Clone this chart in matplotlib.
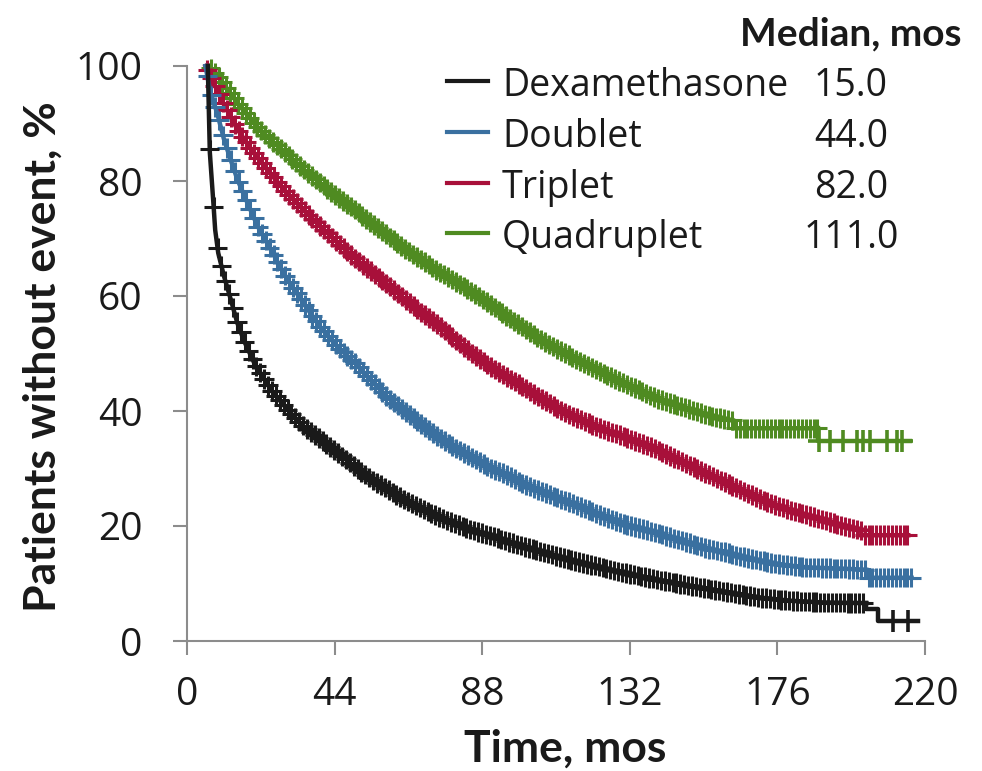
import numpy as np
import matplotlib
matplotlib.use("Agg")
import matplotlib.pyplot as plt
from matplotlib.patheffects import AbstractPathEffect, Normal
from matplotlib.path import Path
from matplotlib.transforms import IdentityTransform
from matplotlib.lines import Line2D

plt.rcParams['font.family'] = ['Open Sans', 'DejaVu Sans']
BOLD_FONT = ['Lato', 'DejaVu Sans']

# ---------------- data ----------------
x_ticks = [0, 44, 88, 132, 176, 220]
y_ticks = [0, 20, 40, 60, 80, 100]

groups = ["Dexamethasone", "Doublet", "Triplet", "Quadruplet"]
medians = ["15.0", "44.0", "82.0", "111.0"]

black_t = [6.2, 6.8, 7.8, 8.4, 9.3, 11, 13, 15, 17, 20, 25, 30, 35, 40, 45, 50,
           55, 60, 65, 70, 75, 80, 85, 90, 100, 110, 120, 130, 140, 150, 160,
           170, 180, 190, 202.5]
black_s = [100, 85, 76.7, 71.5, 67.5, 63.5, 59.5, 55.3, 52.2, 48.4, 43.7, 40.2,
           37.2, 35, 32.7, 30.3, 28.1, 26.3, 24.5, 23, 21.6, 20.4, 19.3, 18.4,
           16.5, 14.8, 13.3, 11.9, 10.7, 9.6, 8.6, 7.6, 7.0, 6.7, 6.6]
black_tail_t = [202.5, 202.5, 206, 206, 218]
black_tail_s = [6.6, 5.5, 5.5, 3.5, 3.5]
black_cens_t = [210.5, 215]

blue_t = [5.5, 7, 9, 11, 13, 15, 18, 21, 25, 30, 35, 40, 45, 50, 55, 60, 65, 70,
          75, 80, 85, 90, 95, 100, 105, 110, 115, 120, 125, 130, 135, 140, 145,
          150, 155, 160, 165, 170, 175, 180, 185, 190, 195, 202.5, 202.5, 216]
blue_s = [100, 95.3, 91.8, 87.3, 83.7, 80.3, 76.2, 72.2, 68, 62.8, 58.5, 54.4,
          51.1, 48.4, 45.2, 42.3, 39.9, 37.7, 35.4, 33.6, 31.9, 30.2, 29, 27.4,
          26.2, 25, 23.9, 22.7, 21.5, 20.4, 19.6, 18.8, 17.9, 17, 16.1, 15.5,
          14.7, 14.1, 13.5, 13.1, 12.8, 12.7, 12.6, 12.4, 11.0, 11.0]

red_t = [5.5, 8, 11, 15, 20, 25, 30, 35, 40, 45, 50, 55, 60, 65, 70, 75, 80, 85,
         90, 95, 100, 105, 110, 115, 120, 125, 130, 135, 140, 145, 150, 155, 160,
         165, 170, 175, 180, 185, 190, 195, 201, 201, 215]
red_s = [100, 97, 93.3, 89, 84.8, 81.2, 77.8, 74.8, 72, 69.2, 66.6, 64.2, 61.9,
         59.4, 57.1, 54.9, 52.4, 50.0, 47.9, 46.0, 44.3, 42.4, 40.6, 39.1, 37.8,
         36.6, 35.6, 34.5, 33.3, 31.9, 30.5, 29.1, 27.7, 26.3, 24.9, 23.7, 22.7,
         21.9, 21, 20.1, 19.2, 18.4, 18.4]

green_t = [6.5, 10, 15, 20, 25, 30, 35, 40, 45, 50, 55, 60, 65, 70, 75, 80, 85,
           90, 95, 100, 105, 110, 115, 120, 125, 130, 135, 140, 145, 150, 155,
           160, 163, 163, 188]
green_s = [100, 97.6, 93.6, 90, 87.1, 84.6, 81.9, 79.5, 77.2, 75, 72.7, 70.4,
           68.2, 66.2, 64.3, 62.5, 60.7, 58.7, 56.6, 54.6, 52.6, 50.9, 49.3, 47.8,
           46.3, 44.9, 43.6, 42.2, 41.2, 40.3, 39.3, 38.6, 38.3, 37.0, 37.0]
green_tail_t = [188, 188, 215.5]
green_tail_s = [37.0, 34.8, 34.8]
green_cens_t = [188.5, 191.7, 195.6, 199.7, 201.5, 203.6, 208.7, 211.6, 213]

colors = ['#1a1a1a', '#3a70a0', '#a8103a', '#4f8b21']
text_col = '#1a1a1a'
axis_col = '#8c8c8c'


# ---------------- censor-tick line style ----------------
class CensorMarks(AbstractPathEffect):
    """'+' censor ticks drawn along a line at a fixed horizontal spacing."""
    def __init__(self, spacing=2.8, half=7.0, lw=2.2):
        super().__init__()
        self.spacing, self.half, self.lw = spacing, half, lw

    def draw_path(self, renderer, gc, tpath, affine, rgbFace=None):
        pts = affine.transform(tpath.vertices)
        x, y = pts[:, 0], pts[:, 1]
        s = np.concatenate([[0.0], np.cumsum(np.abs(np.diff(x)))])
        step = renderer.points_to_pixels(self.spacing)
        h = renderer.points_to_pixels(self.half)
        ss = np.arange(step / 2, s[-1], step)
        if len(ss) == 0:
            return
        xt = np.interp(ss, s, x)
        yt = np.interp(ss, s, y)
        n = len(xt)
        verts = np.empty((4 * n, 2))
        verts[0::4] = np.c_[xt, yt - h]
        verts[1::4] = np.c_[xt, yt + h]
        verts[2::4] = np.c_[xt - h, yt]
        verts[3::4] = np.c_[xt + h, yt]
        codes = np.tile([Path.MOVETO, Path.LINETO, Path.MOVETO, Path.LINETO], n)
        gc0 = renderer.new_gc()
        gc0.copy_properties(gc)
        gc0.set_linewidth(self.lw)
        gc0.set_capstyle('butt')
        renderer.draw_path(gc0, Path(verts, codes), IdentityTransform())
        gc0.restore()


fig = plt.figure(figsize=(9.82, 7.71), dpi=100)
ax = fig.add_axes([187 / 982, 1 - 641 / 771, 738 / 982, 575 / 771])

LW = 3.2
series = [
    (green_t, green_s, colors[3]),
    (red_t, red_s, colors[2]),
    (blue_t, blue_s, colors[1]),
    (black_t, black_s, colors[0]),
]
for t, s, c in series:
    ax.plot(t, s, color=c, lw=LW, solid_joinstyle='miter', clip_on=False,
            path_effects=[Normal(), CensorMarks()])

# sparse tails with explicit censor marks
for tt, ts, ct, c in [(green_tail_t, green_tail_s, green_cens_t, colors[3]),
                      (black_tail_t, black_tail_s, black_cens_t, colors[0])]:
    ax.plot(tt, ts, color=c, lw=LW, clip_on=False)
    cy = [ts[-1]] * len(ct)
    ax.plot(ct, cy, ls='none', marker='+', ms=16, mew=2.6, color=c, clip_on=False)

ax.set_xlim(0, 220)
ax.set_ylim(0, 100)
ax.set_xticks(x_ticks)
ax.set_yticks(y_ticks)
for sp in ['top', 'right']:
    ax.spines[sp].set_visible(False)
for sp in ['left', 'bottom']:
    ax.spines[sp].set_color(axis_col)
    ax.spines[sp].set_linewidth(1.5)
ax.tick_params(axis='both', direction='out', length=10, width=1.5,
               color=axis_col, labelsize=28, labelcolor=text_col)
ax.tick_params(axis='y', pad=22)
ax.tick_params(axis='x', pad=15)

# axis titles
fig.text(43 / 982, 1 - 357 / 771, "Patients without event, %", rotation=90,
         ha='center', va='center', fontsize=32, fontweight='bold',
         family=BOLD_FONT, color=text_col)
fig.text(565 / 982, 1 - 762 / 771, "Time, mos", ha='center', va='baseline',
         fontsize=32, fontweight='bold', family=BOLD_FONT, color=text_col)

# legend with median column
fig.text(851 / 982, 1 - 45 / 771, "Median, mos", ha='center', va='baseline',
         fontsize=28, fontweight='bold', family=BOLD_FONT, color=text_col)
row_base = [96, 147, 198, 248]
for i, (g, m) in enumerate(zip(groups, medians)):
    yb = 1 - row_base[i] / 771
    yl = 1 - (row_base[i] - 15) / 771
    fig.add_artist(Line2D([447 / 982, 488 / 982], [yl, yl], color=colors[i],
                          lw=3, transform=fig.transFigure))
    fig.text(502 / 982, yb, g, ha='left', va='baseline', fontsize=27, color=text_col)
    fig.text(851 / 982, yb, m, ha='center', va='baseline', fontsize=27, color=text_col)

fig.savefig("out.png", dpi=100)
